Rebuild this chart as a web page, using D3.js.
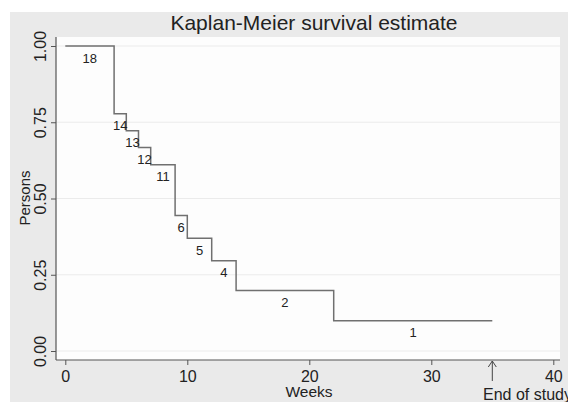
<!DOCTYPE html>
<html lang="en">
<head>
    <meta charset="utf-8">
    <title>Kaplan-Meier</title>
    <script type="text/javascript" src="https://d3js.org/d3.v7.min.js"></script>
    <style>
        body { margin: 0; background: #fff; }
        text { font-family: "Liberation Sans", Arial, sans-serif; fill: #222; }
    </style>
</head>
<body>
    <div id="container"></div>
    <script type="text/javascript">
        // step times (weeks), survival estimate, number at risk
        var times = [0, 4, 5, 6, 7, 9, 10, 12, 14, 22];
        var surv = [1, 0.778, 0.722, 0.667, 0.611, 0.444, 0.370, 0.296, 0.198, 0.099];
        var atRisk = [18, 14, 13, 12, 11, 6, 5, 4, 2, 1];
        var endTime = 35;
        var xTicks = [0, 10, 20, 30, 40];
        var yTicks = [0, 0.25, 0.5, 0.75, 1];

        var w = 568, h = 402;
        const svg = d3.select("div#container").append("svg")
            .attr("width", w).attr("height", h);

        // outer grey region and plot region
        svg.append("rect").attr("x", 10).attr("y", 12).attr("width", w - 10).attr("height", h - 12)
            .attr("fill", "#eaeaea");
        svg.append("rect").attr("x", 56).attr("y", 37).attr("width", 504).attr("height", 323)
            .attr("fill", "#fdfdfd");

        var x = d3.scaleLinear().domain([0, 40]).range([65.3, 553.3]);
        var y = d3.scaleLinear().domain([0, 1]).range([351, 46]);

        // grid lines
        svg.selectAll("line.grid").data(yTicks).enter().append("line")
            .attr("class", "grid")
            .attr("x1", 56).attr("x2", 560)
            .attr("y1", d => y(d)).attr("y2", d => y(d))
            .attr("stroke", "#ebebeb").attr("stroke-width", 1);

        // axes
        var xAxis = svg.append("g").attr("transform", "translate(0,360)")
            .call(d3.axisBottom(x).tickValues(xTicks).tickSize(5).tickPadding(6).tickFormat(d3.format("d")));
        var yAxis = svg.append("g").attr("transform", "translate(56,0)")
            .call(d3.axisLeft(y).tickValues(yTicks).tickSize(5).tickFormat(d3.format(".2f")));
        [xAxis, yAxis].forEach(function (g) {
            g.select(".domain").attr("stroke", "#555").attr("stroke-width", 1.2);
            g.selectAll(".tick line").attr("stroke", "#555");
            g.selectAll("text").style("font-family", "Liberation Sans, Arial, sans-serif")
                .style("font-size", "16px").attr("fill", "#222");
        });
        // extend the domain lines to plot edges
        xAxis.select(".domain").attr("d", "M" + (56) + ",0H560");
        yAxis.select(".domain").attr("d", "M0,37V360");
        yAxis.selectAll(".tick text")
            .attr("x", 0).attr("dy", null)
            .attr("text-anchor", "middle")
            .attr("transform", "translate(-10,0) rotate(-90)");

        // survival step line
        var pts = times.map((t, i) => [t, surv[i]]);
        pts.push([endTime, surv[surv.length - 1]]);
        var line = d3.line().x(d => x(d[0])).y(d => y(d[1])).curve(d3.curveStepAfter);
        svg.append("path").datum(pts)
            .attr("d", line)
            .attr("fill", "none").attr("stroke", "#707070").attr("stroke-width", 1.5);

        // number at risk labels
        svg.selectAll("text.risk").data(atRisk).enter().append("text")
            .attr("class", "risk")
            .attr("x", (d, i) => x(((times[i]) + (i + 1 < times.length ? times[i + 1] : endTime)) / 2))
            .attr("y", (d, i) => y(surv[i]) + 16.5)
            .attr("text-anchor", "middle")
            .style("font-size", "13px")
            .text(d => d);

        // end of study marker
        svg.append("line").attr("x1", x(endTime)).attr("x2", x(endTime))
            .attr("y1", 361).attr("y2", 381).attr("stroke", "#444").attr("stroke-width", 1);
        svg.append("path")
            .attr("d", "M" + (x(endTime) - 4) + ",367L" + x(endTime) + ",361L" + (x(endTime) + 4) + ",367")
            .attr("fill", "none").attr("stroke", "#444").attr("stroke-width", 1);
        svg.append("text").attr("x", 483).attr("y", 400)
            .style("font-size", "16px").text("End of study");

        // titles
        svg.append("text").attr("x", 314).attr("y", 30).attr("text-anchor", "middle")
            .style("font-size", "21px").text("Kaplan-Meier survival estimate");
        svg.append("text").attr("x", 309).attr("y", 397).attr("text-anchor", "middle")
            .style("font-size", "15.5px").text("Weeks");
        svg.append("text").attr("transform", "translate(30,198) rotate(-90)").attr("text-anchor", "middle")
            .style("font-size", "15px").text("Persons");
    </script>
</body>
</html>
